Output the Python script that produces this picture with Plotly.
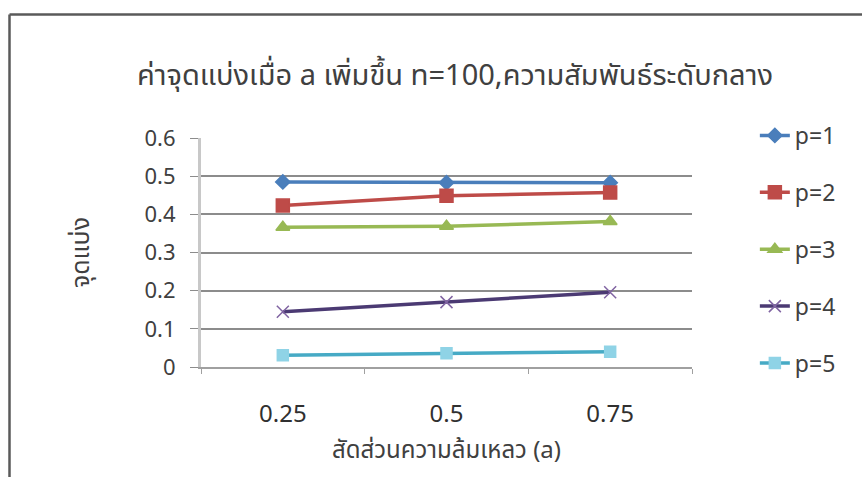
import plotly.graph_objects as go

categories = ["0.25", "0.5", "0.75"]
series_names = ["p=1", "p=2", "p=3", "p=4", "p=5"]
p1 = [0.485, 0.483, 0.483]
p2 = [0.423, 0.449, 0.457]
p3 = [0.366, 0.369, 0.381]
p4 = [0.145, 0.170, 0.196]
p5 = [0.031, 0.036, 0.040]
y_ticks = [0, 0.1, 0.2, 0.3, 0.4, 0.5, 0.6]
y_ticktext = ["0", "0.1", "0.2", "0.3", "0.4", "0.5", "0.6"]

title_text = "ค่าจุดแบ่งเมื่อ a เพิ่มขึ้น n=100,ความสัมพันธ์ระดับกลาง"
x_title = "สัดส่วนความล้มเหลว (a)"
y_title = "จุดแบ่ง"

values = [p1, p2, p3, p4, p5]
line_colors = ["#4A7EBB", "#BE4B48", "#98B954", "#4B3A73", "#46AAC5"]
marker_colors = ["#4A7EBB", "#BE4B48", "#98B954", "#8064A2", "#8FD3E6"]
symbols = ["diamond", "square", "triangle-up", "x-thin-open", "square"]
sizes = [11, 13, 12, 12, 11]

FONT = "Liberation Sans Narrow, Noto Sans Thai, Noto Sans, sans-serif"

fig = go.Figure()
for i, (name, vals) in enumerate(zip(series_names, values)):
    fig.add_trace(go.Scatter(
        x=categories, y=vals, name=name, mode="lines+markers",
        legendgroup=name,
        line=dict(color=line_colors[i], width=3.5),
        marker=dict(symbol=symbols[i], size=sizes[i], color=marker_colors[i],
                    line=dict(color=marker_colors[i], width=1.5)),
    ))

fig.update_layout(
    width=862, height=477,
    margin=dict(l=201, r=170, t=138, b=110),
    paper_bgcolor="white", plot_bgcolor="white",
    font=dict(family=FONT, color="#404040"),
    title=dict(text=title_text, x=455 / 862, xanchor="center",
               y=1 - 75 / 477, yanchor="middle",
               font=dict(size=29, color="#404040", family=FONT)),
    showlegend=True,
    legend=dict(x=1.128, xanchor="left", y=1.105, yanchor="top",
                traceorder="grouped", tracegroupgap=24, maxheight=400,
                font=dict(size=23, color="#404040", family=FONT),
                bgcolor="rgba(0,0,0,0)"),
    xaxis=dict(type="category", range=[-0.5, 2.5], showgrid=False,
               showline=True, linecolor="#A0A0A0", linewidth=1.5,
               ticks="outside", tickson="boundaries", ticklen=5, tickcolor="#A0A0A0",
               ticklabelstandoff=24,
               tickfont=dict(size=24, color="#303030", family=FONT),
               title=dict(text=x_title, standoff=0,
                          font=dict(size=24, color="#404040", family=FONT)),
               zeroline=False),
    yaxis=dict(range=[0, 0.6], tickvals=y_ticks, ticktext=y_ticktext,
               showgrid=True, gridcolor="#8C8C8C", gridwidth=1.5,
               showline=True, linecolor="#C8C8C8", linewidth=3,
               ticks="outside", ticklen=8, tickcolor="#8C8C8C",
               ticklabelstandoff=10,
               tickfont=dict(size=22, color="#404040", family=FONT),
               title=dict(text=y_title, standoff=48,
                          font=dict(size=25, color="#404040", family=FONT)),
               zeroline=False),
)

# outer chart frame (top and left edges visible)
W = 491.0
H = 229.0
def px(x):
    return (x - 201) / W
def py(y):
    return (367 - y) / H
fig.add_shape(type="line", xref="paper", yref="paper",
              x0=px(9.5), y0=py(14.5), x1=px(862), y1=py(14.5),
              line=dict(color="#5A5A5A", width=2.5))
fig.add_shape(type="line", xref="paper", yref="paper",
              x0=px(9.5), y0=py(14.5), x1=px(9.5), y1=py(477),
              line=dict(color="#5A5A5A", width=2.5))

fig.write_html("out.html")
